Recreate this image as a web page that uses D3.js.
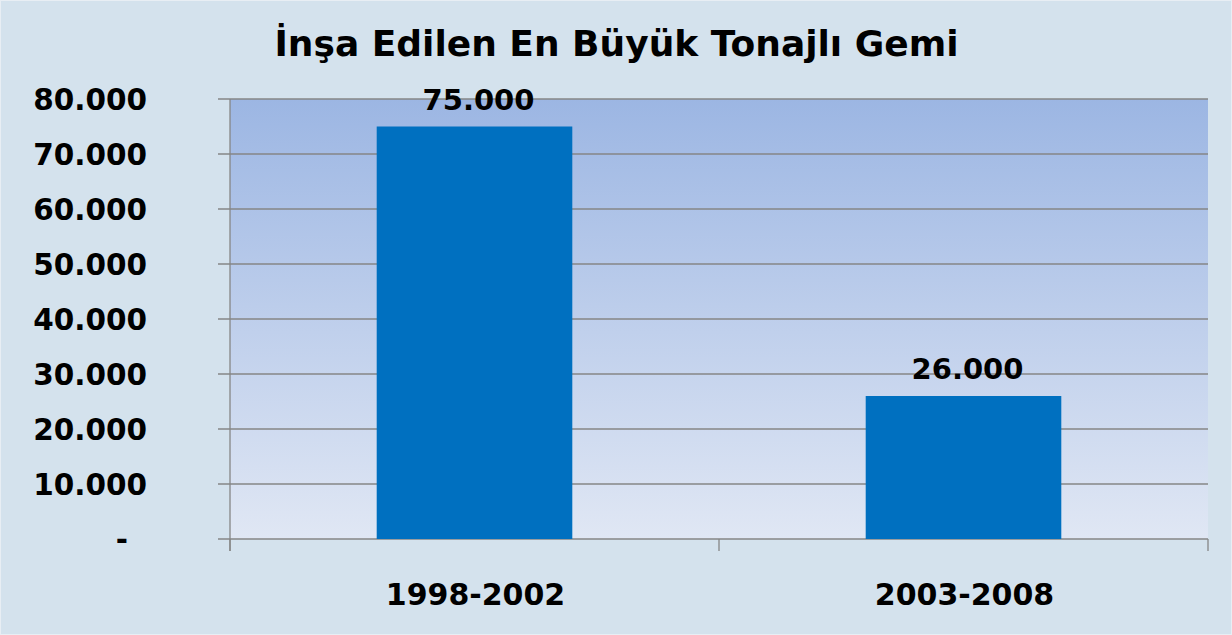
<!DOCTYPE html>
<html><head><meta charset="utf-8">
<script src="https://cdn.jsdelivr.net/npm/d3@7"></script>
<style>
html,body{margin:0;padding:0;background:#d4e2ed;}
svg{display:block;font-family:"DejaVu Sans",Verdana,sans-serif;font-weight:bold;}
</style></head>
<body>
<svg id="c" width="1232" height="635"></svg>
<script>
const categories = ["1998-2002", "2003-2008"];
const values = [75000, 26000];
const valueLabels = ["75.000", "26.000"];
const yTicks = [0, 10000, 20000, 30000, 40000, 50000, 60000, 70000, 80000];
const yTickLabels = ["-", "10.000", "20.000", "30.000", "40.000", "50.000", "60.000", "70.000", "80.000"];
const title = "İnşa Edilen En Büyük Tonajlı Gemi";

(function(){
const W = 1232, H = 635;
const pLeft = 230, pRight = 1208, pTop = 99, pBottom = 539;
const svg = d3.select("#c");

svg.append("rect").attr("x",0.5).attr("y",0.5).attr("width",W-1).attr("height",H-1)
  .attr("fill","#d4e2ed").attr("stroke","#e8eef4").attr("stroke-width",1);

const defs = svg.append("defs");
const g = defs.append("linearGradient").attr("id","pg").attr("x1",0).attr("y1",0).attr("x2",0).attr("y2",1);
g.append("stop").attr("offset","0%").attr("stop-color","#9cb6e3");
g.append("stop").attr("offset","100%").attr("stop-color","#e0e7f4");

const x = d3.scaleBand().domain(categories).range([pLeft, pRight]).paddingInner(0.6).paddingOuter(0.3);
const y = d3.scaleLinear().domain([0, 80000]).range([pBottom, pTop]);

svg.append("rect").attr("x",pLeft).attr("y",pTop).attr("width",pRight-pLeft).attr("height",pBottom-pTop).attr("fill","url(#pg)");

svg.append("g").selectAll("line").data(yTicks).join("line")
  .attr("x1", pLeft-12).attr("x2", pRight).attr("y1", d=>y(d)).attr("y2", d=>y(d))
  .attr("stroke","#868686").attr("stroke-width",1.3);

svg.append("line").attr("x1",pLeft).attr("x2",pLeft).attr("y1",pTop).attr("y2",pBottom+12)
  .attr("stroke","#868686").attr("stroke-width",1.3);

const step = (pRight-pLeft)/categories.length;
const xTickPos = d3.range(categories.length+1).map(i=>pLeft+i*step);
svg.append("g").selectAll("line").data(xTickPos).join("line")
  .attr("x1", d=>d).attr("x2", d=>d).attr("y1", pBottom).attr("y2", pBottom+12)
  .attr("stroke","#868686").attr("stroke-width",1.3);

svg.append("g").selectAll("rect").data(values).join("rect")
  .attr("x",(d,i)=>x(categories[i])).attr("width",x.bandwidth())
  .attr("y",d=>y(d)).attr("height",d=>y(0)-y(d)).attr("fill","#0070c0");

svg.append("g").selectAll("text").data(values).join("text")
  .attr("x",(d,i)=>x(categories[i])+x.bandwidth()/2+4).attr("y",d=>y(d)-17)
  .attr("text-anchor","middle").attr("font-size",29).attr("fill","#000")
  .text((d,i)=>valueLabels[i]);

svg.append("g").selectAll("text").data(yTicks).join("text")
  .attr("x",147).attr("y",d=>y(d)+11).attr("text-anchor","end")
  .attr("font-size",29.5).attr("fill","#000")
  .text((d,i)=>yTickLabels[i]).attr("dx",(d,i)=>yTickLabels[i]==="-"?-19:0);

svg.append("g").selectAll("text").data(categories).join("text")
  .attr("x",d=>x(d)+x.bandwidth()/2+1).attr("y",605)
  .attr("text-anchor","middle").attr("font-size",30).attr("fill","#000").text(d=>d);

svg.append("text").attr("x",616.5).attr("y",56).attr("text-anchor","middle")
  .attr("font-size",36).attr("fill","#000").text(title);
})();
</script>
</body></html>
